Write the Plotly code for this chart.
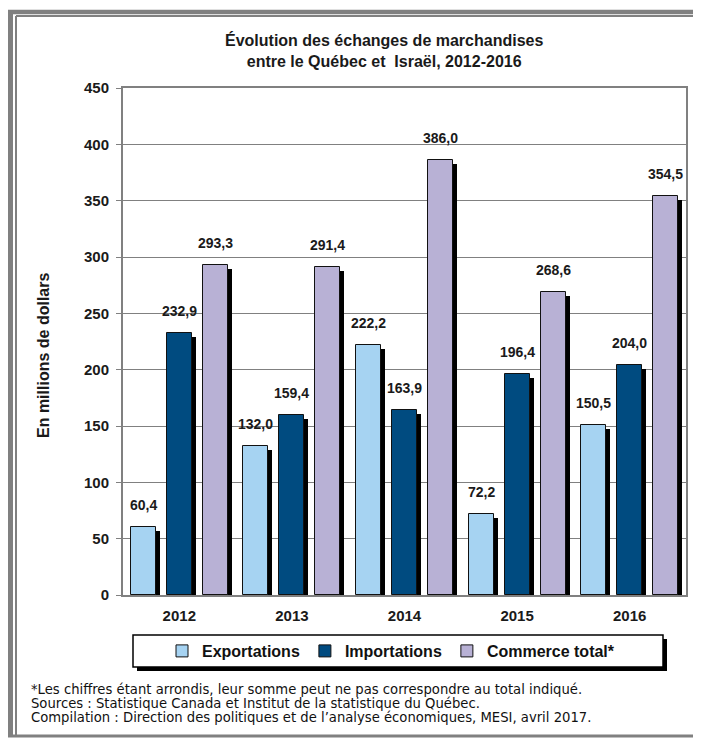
import plotly.graph_objects as go

years = ["2012", "2013", "2014", "2015", "2016"]
exportations = [60.4, 132.0, 222.2, 72.2, 150.5]
importations = [232.9, 159.4, 163.9, 196.4, 204.0]
commerce_total = [293.3, 291.4, 386.0, 268.6, 354.5]
series_names = ["Exportations", "Importations", "Commerce total*"]
colors = ["#A6D3F2", "#004B80", "#B8B1D5"]

title_text = "Évolution des échanges de marchandises<br>entre le Québec et  Israël, 2012-2016"
yaxis_title = "En millions de dollars"
footnotes = [
    "*Les chiffres étant arrondis, leur somme peut ne pas correspondre au total indiqué.",
    "Sources : Statistique Canada et Institut de la statistique du Québec.",
    "Compilation : Direction des politiques et de l\u2019analyse économiques, MESI, avril 2017.",
]

# page body has an 8px margin: work in reference pixel coords, shift by 8
OFF = 8
W, H = 701 - OFF, 738 - OFF
L, R, T, B = 123 - OFF, 686 - OFF, 88 - OFF, 595 - OFF
PW, PH = R - L, B - T

FONT = "Liberation Sans Narrow, Arial Narrow, Liberation Sans, Arial, sans-serif"
FONT_REG = "DejaVu Sans, Liberation Sans, Arial, sans-serif"

def px(x):  # reference pixel x -> paper
    return (x - OFF - L) / PW

def py(y):  # reference pixel y -> paper
    return (B - (y - OFF)) / PH

cat_px = PW / len(years)
bar_w = 25 / cat_px
slot = 36 / cat_px
offsets = [-slot, 0.0, slot]
dx = 4 / cat_px
dy = 4 * 450 / PH

all_series = [exportations, importations, commerce_total]
idx = list(range(len(years)))

fig = go.Figure()

# shadows
for vals, off in zip(all_series, offsets):
    fig.add_trace(go.Bar(
        x=[i + off + dx for i in idx], y=vals, base=-dy, width=bar_w,
        marker=dict(color="black", line=dict(width=0)),
        showlegend=False, hoverinfo="skip",
    ))

# main bars
for vals, off, name, col in zip(all_series, offsets, series_names, colors):
    fig.add_trace(go.Bar(
        x=[i + off for i in idx], y=vals, width=bar_w, name=name,
        marker=dict(color=col, line=dict(color="#111111", width=1)),
    ))

annotations = []
for vals, off in zip(all_series, offsets):
    for i, v in zip(idx, vals):
        annotations.append(dict(
            x=i + off, y=v, xref="x", yref="y", text=f"{v:.1f}".replace(".", ","),
            showarrow=False, yanchor="bottom", yshift=12,
            font=dict(family=FONT, size=14, color="#1a1a1a", weight="bold"),
        ))

annotations.append(dict(
    x=px(384), y=py(50), xref="paper", yref="paper", text=title_text,
    showarrow=False, xanchor="center", yanchor="middle",
    font=dict(family=FONT, size=16, color="#1a1a1a", weight="bold"),
))

annotations.append(dict(
    x=px(43), y=py(356), xref="paper", yref="paper", text=yaxis_title,
    textangle=-90, showarrow=False, xanchor="center", yanchor="middle",
    font=dict(family=FONT, size=16, color="#1a1a1a", weight="bold"),
))

for k, line in enumerate(footnotes):
    annotations.append(dict(
        x=px(29), y=py(689 + 14 * k), xref="paper", yref="paper", text=line,
        showarrow=False, xanchor="left", yanchor="middle",
        font=dict(family=FONT_REG, size=13.2, color="#111111"),
    ))

gray = "#808080"
shapes = [
    # outer frame
    dict(type="line", xref="paper", yref="paper", x0=px(10.5), x1=px(10.5), y0=py(12), y1=py(736), line=dict(color=gray, width=5)),
    dict(type="line", xref="paper", yref="paper", x0=px(8), x1=px(701), y0=py(12), y1=py(12), line=dict(color=gray, width=4.5)),
    dict(type="line", xref="paper", yref="paper", x0=px(16), x1=px(16), y0=py(16), y1=py(736), line=dict(color=gray, width=2)),
    dict(type="line", xref="paper", yref="paper", x0=px(16), x1=px(701), y0=py(16), y1=py(16), line=dict(color=gray, width=2)),
    dict(type="line", xref="paper", yref="paper", x0=px(8), x1=px(701), y0=py(736), y1=py(736), line=dict(color=gray, width=3)),
    # legend shadow and box
    dict(type="rect", xref="paper", yref="paper", x0=px(137), x1=px(667), y0=py(639), y1=py(671), fillcolor="black", line=dict(width=0)),
    dict(type="rect", xref="paper", yref="paper", x0=px(133), x1=px(663), y0=py(635), y1=py(667), fillcolor="white", line=dict(color="black", width=1.5)),
]

fig.update_layout(
    width=W, height=H,
    margin=dict(l=L, r=W - R, t=T, b=H - B, autoexpand=False),
    paper_bgcolor="white", plot_bgcolor="white",
    barmode="overlay",
    xaxis=dict(range=[-0.5, len(years) - 0.5], tickvals=idx, ticktext=years,
               showgrid=False, zeroline=False, showline=True, linecolor=gray, linewidth=2, mirror=True,
               ticks="", ticklabelstandoff=6,
               tickfont=dict(family=FONT, size=15, color="#1a1a1a", weight="bold")),
    yaxis=dict(range=[0, 450], dtick=50, tick0=0, showgrid=True, gridcolor=gray, gridwidth=1,
               zeroline=False, showline=True, linecolor=gray, linewidth=2, mirror=True,
               ticks="outside", ticklen=5, tickcolor=gray, ticklabelstandoff=4,
               tickfont=dict(family=FONT, size=15, color="#1a1a1a", weight="bold")),
    legend=dict(orientation="h", x=px(391), xanchor="center", y=py(651), yanchor="middle",
                bgcolor="rgba(0,0,0,0)", borderwidth=0,
                font=dict(family=FONT, size=16, color="#111111", weight="bold"),
                itemclick=False),
    annotations=annotations,
    shapes=shapes,
    bargap=0,
)

fig.write_html("out.html")
